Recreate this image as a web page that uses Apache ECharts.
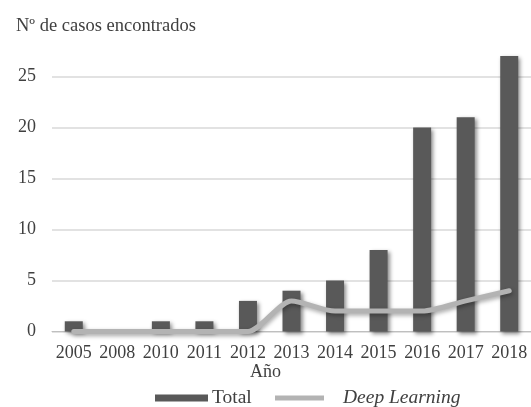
<!DOCTYPE html>
<html>
<head>
<meta charset="utf-8">
<script src="https://cdn.jsdelivr.net/npm/echarts@6/dist/echarts.min.js"></script>
<style>
  html, body { margin: 0; padding: 0; background: #fff; }
  #chart { width: 531px; height: 407px; }
</style>
</head>
<body>
<div id="chart"></div>
<script>
// Publications per year: all cases vs. those using deep learning
const years = ['2005', '2008', '2010', '2011', '2012', '2013', '2014', '2015', '2016', '2017', '2018'];
const totalCases = [1, 0, 1, 1, 3, 4, 5, 8, 20, 21, 27];
const deepLearningCases = [0, 0, 0, 0, 0, 3, 2, 2, 2, 3, 4];
const yTicks = [0, 5, 10, 15, 20, 25];

const FONT = '"Liberation Serif", "DejaVu Serif", serif';
const TEXT = '#404040';

const chart = echarts.init(document.getElementById('chart'), null, { renderer: 'canvas' });

chart.setOption({
  animation: false,
  backgroundColor: '#ffffff',
  textStyle: { fontFamily: FONT, color: TEXT },
  title: [
    {
      text: 'Nº de casos encontrados',
      left: 11, top: 12,
      textStyle: { fontFamily: FONT, fontSize: 18.5, fontWeight: 'normal', color: TEXT }
    },
    {
      text: 'Año',
      left: 'center', top: 358,
      textStyle: { fontFamily: FONT, fontSize: 18, fontWeight: 'normal', color: TEXT }
    }
  ],
  legend: [
    {
      data: ['Total'],
      left: 155, top: 388,
      padding: 0,
      icon: 'rect',
      itemWidth: 53, itemHeight: 7,
      textStyle: { fontFamily: FONT, fontSize: 19.5, color: TEXT, padding: [0, 0, 0, -1] }
    },
    {
      data: ['Deep Learning'],
      left: 275, top: 388,
      padding: 0,
      icon: 'rect',
      itemWidth: 49, itemHeight: 5,
      textStyle: { fontFamily: FONT, fontSize: 19.5, fontStyle: 'italic', color: TEXT, padding: [0, 0, 0, 14] }
    }
  ],
  grid: { left: 52, top: 76.5, width: 483, height: 255, containLabel: false },
  xAxis: {
    type: 'category',
    data: years,
    axisLine: { lineStyle: { color: '#bfbfbf', width: 1 } },
    axisTick: { show: false },
    axisLabel: { fontFamily: FONT, fontSize: 18, color: TEXT, margin: 13, interval: 0 }
  },
  yAxis: {
    type: 'value',
    min: yTicks[0],
    max: yTicks[yTicks.length - 1],
    interval: 5,
    axisLine: { show: false },
    axisTick: { show: false },
    splitLine: { lineStyle: { color: '#d9d9d9', width: 1.5 } },
    axisLabel: { fontFamily: FONT, fontSize: 18, color: TEXT, margin: 16 }
  },
  series: [
    {
      name: 'Total',
      type: 'bar',
      data: totalCases,
      barWidth: 18,
      clip: false,
      itemStyle: {
        color: '#595959',
        shadowColor: 'rgba(0,0,0,0.45)',
        shadowBlur: 4,
        shadowOffsetX: 2,
        shadowOffsetY: 2
      },
      z: 2
    },
    {
      name: 'Deep Learning',
      type: 'line',
      data: deepLearningCases,
      smooth: 0.25,
      symbol: 'none',
      clip: false,
      itemStyle: { color: '#b3b3b3' },
      lineStyle: {
        color: '#b3b3b3',
        width: 5,
        cap: 'round',
        shadowColor: 'rgba(0,0,0,0.35)',
        shadowBlur: 4,
        shadowOffsetX: 1,
        shadowOffsetY: 2
      },
      z: 3
    }
  ]
});
</script>
</body>
</html>
